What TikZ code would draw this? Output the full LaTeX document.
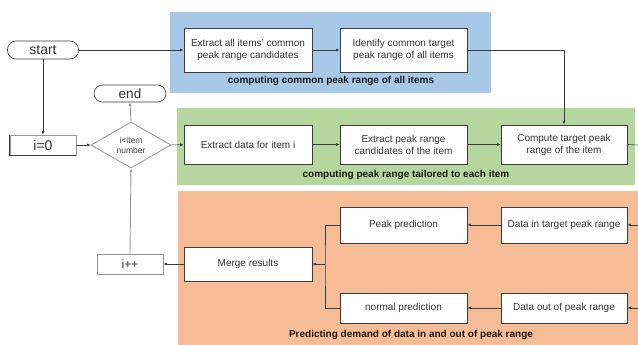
\documentclass[tikz,border=0pt]{standalone}
\usepackage{fontspec}
\setmainfont{Liberation Sans}
\usetikzlibrary{shapes.geometric,arrows.meta}
\definecolor{bgblue}{RGB}{168,200,232}
\definecolor{bggreen}{RGB}{182,214,160}
\definecolor{bgorange}{RGB}{246,188,150}
\definecolor{lnc}{RGB}{60,60,60}
\definecolor{lgray}{RGB}{150,150,150}
\tikzset{
  box/.style={draw=lnc, line width=0.7pt, fill=white, inner sep=0pt, align=center, font=\fontsize{10}{12}\selectfont, text=black!80},
  term/.style={draw=lnc, line width=0.6pt, fill=white, rounded corners=8.5pt, inner sep=0pt, font=\fontsize{14}{16}\selectfont, text=black!80},
  arr/.style={draw=lnc, line width=0.6pt, -{Latex[length=3.5pt,width=3pt]}},
  garr/.style={draw=lgray, line width=0.9pt, -{Latex[length=3.5pt,width=3pt]}, shorten >=0pt},
  ln/.style={draw=lnc, line width=0.6pt},
  grp/.style={font=\bfseries\fontsize{10}{12}\selectfont, text=black!90}
}
\begin{document}
\begin{tikzpicture}[x=1pt,y=-1pt]
\useasboundingbox (0,0) rectangle (638,345);
% group backgrounds
\fill[bgblue] (170,12) rectangle (491,93);
\fill[bggreen] (177,108) rectangle (635,185);
\fill[bgorange] (178,191) rectangle (638,345);
\node[grp] (gblue) at (331,81) {computing common peak range of all items};
\node[grp] (ggreen) at (406,175) {computing peak range tailored to each item};
\node[grp] (gorange) at (411,335) {Predicting demand of data in and out of peak range};
% terminals
\node[term, minimum width=71pt, minimum height=18pt] (start) at (43,50) {start};
\node[term, minimum width=72pt, minimum height=17pt, font=\fontsize{13.5}{15}\selectfont] (end) at (130,93.5) {end};
% blue boxes
\node[box, minimum width=128pt, minimum height=44pt] (b1) at (248,50) {Extract all items' common\\peak range candidates};
\node[box, minimum width=127pt, minimum height=44pt] (b2) at (403.5,50) {Identify common target\\peak range of all items};
% loop init
\node[draw=lgray, line width=0.8pt, fill=white, minimum width=66pt, minimum height=20pt, inner sep=0pt, font=\fontsize{14}{16}\selectfont, text=black!80] (i0) at (43,145) {i=0};
\draw[lnc, line width=1.3pt] (i0.north west) -- (i0.south west) -- (i0.south east);
\node[diamond, draw=lgray, line width=0.8pt, fill=white, minimum width=80pt, minimum height=46pt, inner sep=0pt, aspect=1.7, align=center, font=\fontsize{8.5}{10}\selectfont, text=black!75] (dec) at (131,145) {i<item\\number};
% green boxes
\node[box, minimum width=128pt, minimum height=39pt] (g1) at (248,144.5) {Extract data for item i};
\node[box, minimum width=127pt, minimum height=39pt] (g2) at (403.5,144.5) {Extract peak range\\candidates of the item};
\node[box, minimum width=126pt, minimum height=39pt] (g3) at (564,144.5) {Compute target peak\\range of the item};
% orange boxes
\node[box, minimum width=127pt, minimum height=36pt] (pp) at (403.5,225) {Peak prediction};
\node[box, minimum width=126pt, minimum height=36pt] (din) at (564,225) {Data in target peak range};
\node[box, minimum width=127pt, minimum height=30pt] (np) at (403.5,308) {normal prediction};
\node[box, minimum width=126pt, minimum height=30pt] (dout) at (564,308) {Data out of peak range};
\node[box, minimum width=128pt, minimum height=34pt] (mr) at (248,264) {Merge results};
\node[draw=lgray, line width=0.8pt, fill=white, minimum width=66pt, minimum height=20pt, inner sep=0pt, font=\fontsize{12}{14}\selectfont, text=black!80] (ipp) at (130,264) {i++};
% coordinates
\coordinate (edge1) at (638,145);
\coordinate (edge2) at (638,225);
\coordinate (edge3) at (638,308);
\coordinate (brk) at (325,264);
% connectors
\draw[arr] (start) -- (b1);
\draw[arr] (b1) -- (b2);
\draw[arr] (b2.east) -| (g3.north);
\draw[arr] (start) -- (i0);
\draw[arr] (i0) -- (dec);
\draw[garr] (dec.north) -- (end.south);
\draw[arr] (dec) -- (g1);
\draw[arr] (g1) -- (g2);
\draw[arr] (g2) -- (g3);
\draw[ln] (g3.east) -- (edge1);
\draw[arr] (edge2) -- (din);
\draw[arr] (edge3) -- (dout);
\draw[arr] (din) -- (pp);
\draw[arr, line width=0.9pt] (dout) -- (np);
\draw[ln] (pp.west) -| (brk) |- (np.west);
\draw[arr] (brk) -- (mr);
\draw[arr] (mr) -- (ipp);
\draw[garr] (ipp.north) -- (dec.south);
\end{tikzpicture}
\end{document}
